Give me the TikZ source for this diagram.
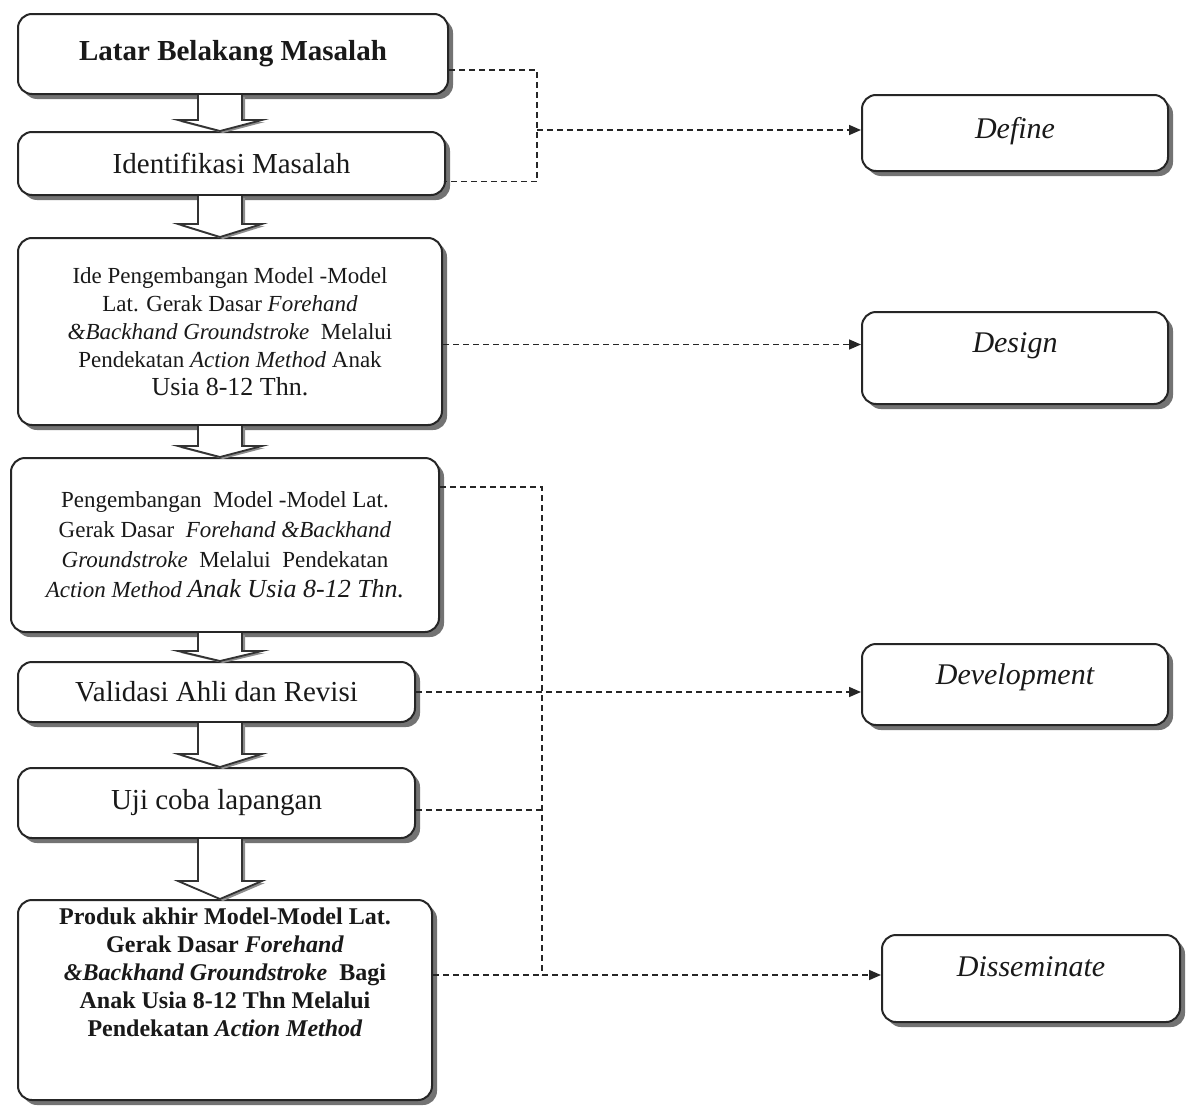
\documentclass[tikz,border=0pt]{standalone}
\usepackage{fontspec}
\setmainfont{Liberation Serif}
\usetikzlibrary{arrows.meta,shadows,calc}

\tikzset{
	flowbox/.style={draw=black!85, line width=1pt, rounded corners=7pt, fill=white,
		drop shadow={shadow xshift=2.5pt, shadow yshift=-2.5pt, fill=black!55, opacity=1},
		align=center, text=black!90, inner sep=2pt},
	stagebox/.style={flowbox, minimum width=153pt, font=\fontsize{15}{18}\selectfont\itshape, text height=11pt},
	dashline/.style={draw=black!85, line width=0.8pt, dash pattern=on 3pt off 2pt},
	dasharrow/.style={dashline, -{Triangle[length=6pt,width=5pt]}},
	blockarrow/.style={draw=black!80, line width=0.9pt, fill=white, line join=miter,
		drop shadow={shadow xshift=1.5pt, shadow yshift=-1pt, fill=black!45, opacity=1}}
}

\begin{document}
\begin{tikzpicture}[x=0.5pt, y=-0.5pt]
	\useasboundingbox (0,0) rectangle (1195,1108);

	% left column
	\node[flowbox, minimum width=215pt, minimum height=40pt, font=\fontsize{14.5}{17}\selectfont\bfseries] (latar) at (233,54) {Latar Belakang Masalah};
	\node[flowbox, minimum width=213.5pt, minimum height=31.5pt, font=\fontsize{14.5}{17}\selectfont] (ident) at (231.5,163.5) {Identifikasi Masalah};
	\node[flowbox, minimum width=212pt, minimum height=93.5pt, font=\fontsize{11.5}{14}\selectfont] (idea) at (230,331.5) {Ide Pengembangan Model -Model\\ Lat. Gerak Dasar \textit{Forehand}\\ \textit{\&Backhand Groundstroke}\ \ Melalui\\ Pendekatan \textit{Action Method} Anak\\ {\fontsize{13}{14}\selectfont Usia 8-12 Thn.}};
	\node[flowbox, minimum width=214pt, minimum height=87pt, font=\fontsize{11.5}{15}\selectfont] (kembang) at (225,545) {Pengembangan\ \ Model -Model Lat.\\ Gerak Dasar\ \ \textit{Forehand \&Backhand}\\ \textit{Groundstroke}\ \ Melalui\ \ Pendekatan\\ \textit{Action Method {\fontsize{13}{15}\selectfont Anak Usia 8-12 Thn.}}};
	\node[flowbox, minimum width=198.5pt, minimum height=30pt, font=\fontsize{14.5}{17}\selectfont] (valid) at (216.5,692) {Validasi Ahli dan Revisi};
	\node[flowbox, minimum width=198.5pt, minimum height=35pt, font=\fontsize{14.5}{17}\selectfont] (uji) at (216.5,803) {Uji coba lapangan};
	\node[flowbox, minimum width=207pt, minimum height=100pt] (produk) at (225,1000) {};
	\node[anchor=north, align=center, inner sep=0pt, text=black!90, font=\fontsize{12}{14}\selectfont\bfseries] (produktxt) at ([yshift=-4pt]produk.north) {Produk akhir Model-Model Lat.\\ Gerak Dasar \textit{Forehand}\\ \textit{\&Backhand Groundstroke}\ \ Bagi\\ Anak Usia 8-12 Thn Melalui\\ Pendekatan \textit{Action Method}};

	% right column
	\node[stagebox, minimum height=38pt, text depth=6pt] (define) at (1015,133) {Define};
	\node[stagebox, minimum height=46pt, text depth=17pt] (design) at (1015,358) {Design};
	\node[stagebox, minimum height=40.5pt, text depth=11.5pt] (develop) at (1015,684.5) {Development};
	\node[stagebox, minimum width=149pt, minimum height=43.5pt, text depth=13.5pt] (dissem) at (1031,978.5) {Disseminate};

	% block arrows
	\coordinate (ax) at (220,0);
	\foreach \a/\b/\h in {latar/ident/11, ident/idea/13, idea/kembang/11, kembang/valid/10, valid/uji/13, uji/produk/18}
		\draw[blockarrow] ($(\a.south -| ax)+(-22,0)$) -- ($(\b.north -| ax)+(-22,-\h)$) -- ++(-20,0) -- (\b.north -| ax) -- ++(42,-\h) -- ++(-20,0) -- ($(\a.south -| ax)+(22,0)$);

	% dashed links
	\coordinate (defjoin) at (537,130);
	\coordinate (devjoin) at (542,975);
	\draw[dashline] ([yshift=-8pt]latar.east) -| (defjoin) |- ([yshift=-9pt]ident.east);
	\draw[dasharrow] (defjoin) -- (defjoin -| define.west);
	\draw[dasharrow] ([yshift=-6.5pt]idea.east) -- ([yshift=-6.5pt]idea.east -| design.west);
	\draw[dashline] ([yshift=-15pt]kembang.north east) -| (devjoin);
	\draw[dasharrow] (valid.east) -- (valid.east -| develop.west);
	\draw[dashline] ([yshift=-3.5pt]uji.east) -- ([yshift=-3.5pt]uji.east -| devjoin);
	\draw[dashline, line width=1.4pt] (produk.east |- devjoin) -- (devjoin);
	\draw[dasharrow] (devjoin) -- (devjoin -| dissem.west);
\end{tikzpicture}
\end{document}
